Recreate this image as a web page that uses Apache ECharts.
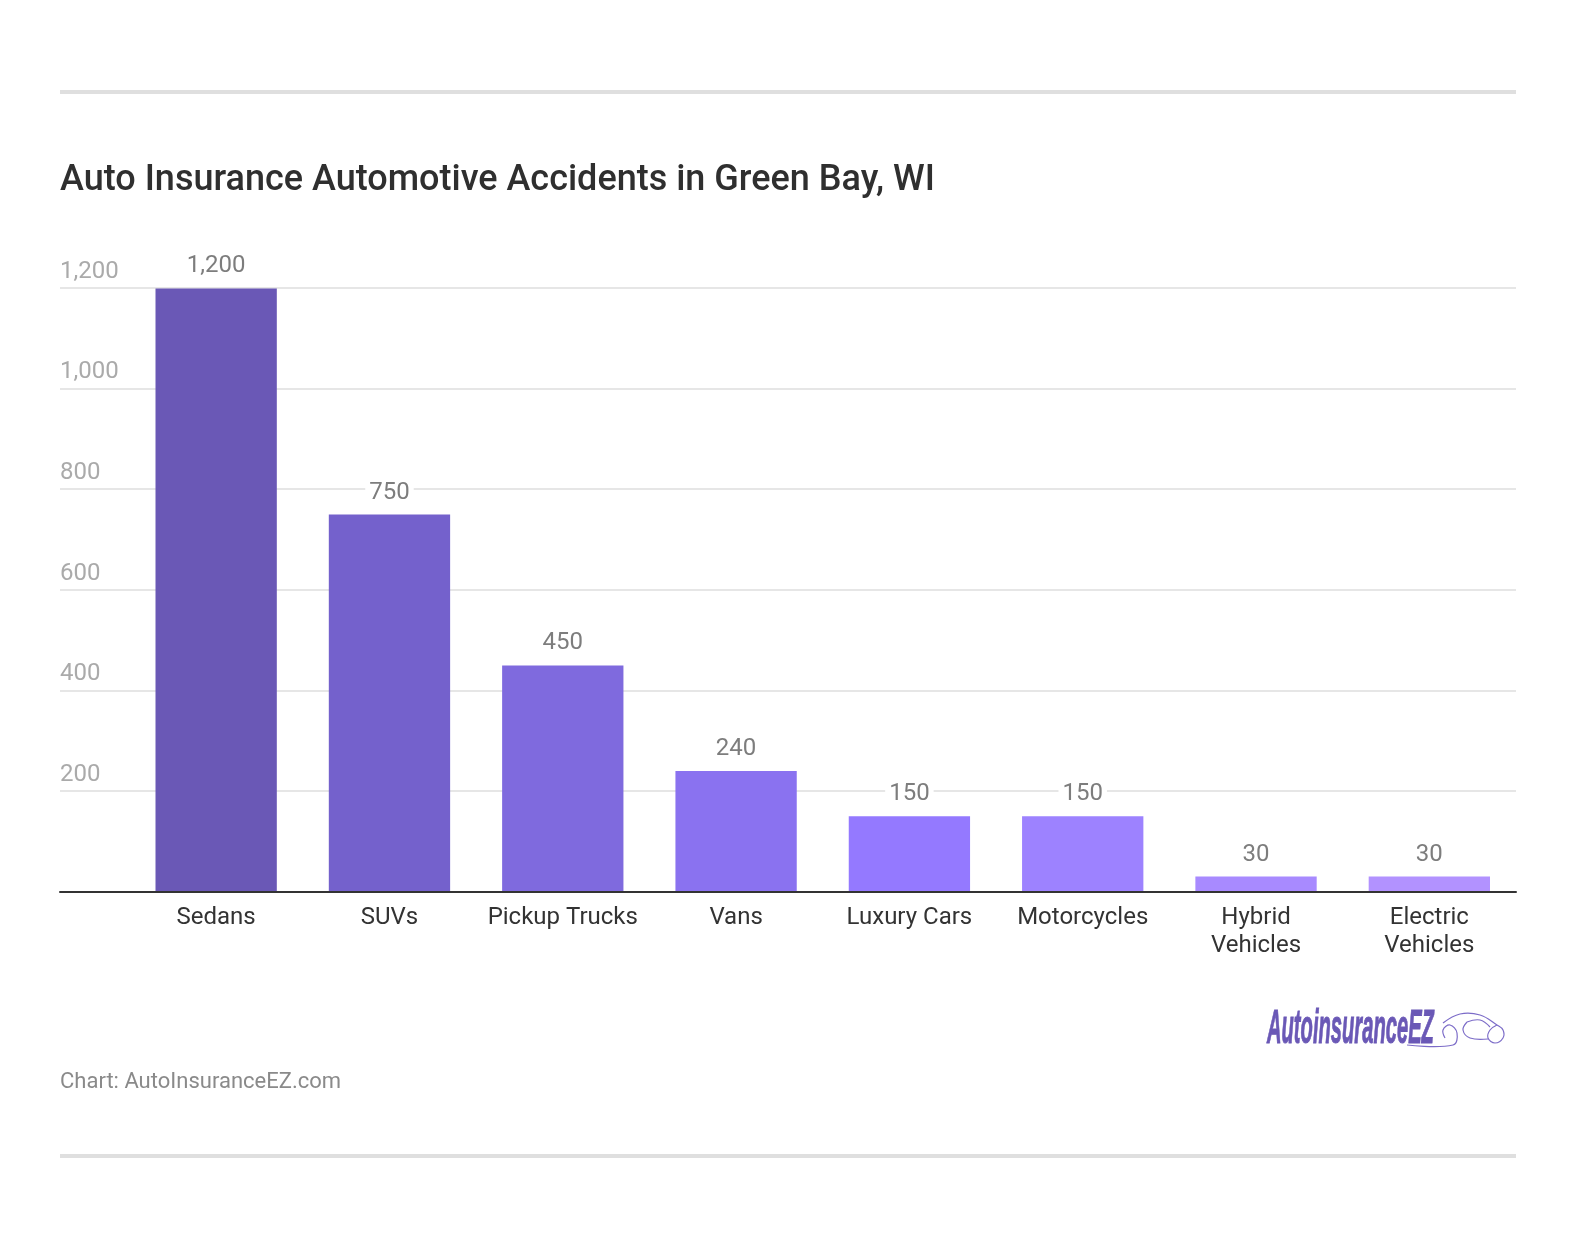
<!DOCTYPE html>
<html>
<head>
    <meta charset="UTF-8">
    <title>Auto Insurance Automotive Accidents in Green Bay, WI</title>
    <script src="https://cdn.jsdelivr.net/npm/echarts@6/dist/echarts.min.js"></script>
    <style>
        html, body { margin: 0; padding: 0; background: #fff; }
        #chart { width: 1576px; height: 1238px; }
    </style>
</head>
<body>
<div id="chart"></div>
<script>
    var categories = ['Sedans', 'SUVs', 'Pickup Trucks', 'Vans', 'Luxury Cars', 'Motorcycles', 'Hybrid\nVehicles', 'Electric\nVehicles'];
    var accidents = [1200, 750, 450, 240, 150, 150, 30, 30];
    var barColors = ['#6a58b6', '#7461cc', '#7f6ade', '#8a72f0', '#9479ff', '#9d82ff', '#a88aff', '#b292ff'];
    var titleText = 'Auto Insurance Automotive Accidents in Green Bay, WI';
    var sourceText = 'Chart: AutoInsuranceEZ.com';
    var logoText = 'AutoinsuranceEZ';

    var font = 'Roboto';
    var chart = echarts.init(document.getElementById('chart'));

    // logo car, drawn as smoothed lines
    function logoLine(points) {
        return {
            type: 'polyline',
            shape: {points: points, smooth: 0.4},
            style: {fill: 'none', stroke: '#7c6cc8', lineWidth: 1.2}
        };
    }

    chart.setOption({
        animation: false,
        backgroundColor: '#fff',
        title: {
            text: titleText,
            left: 60,
            top: 163,
            padding: 0,
            textStyle: {fontFamily: font, fontSize: 36, fontWeight: 500, color: '#2f2f2f'}
        },
        // grid 0 holds the full width gridlines, grid 1 the bars
        grid: [
            {left: 60, right: 60, top: 287.6, height: 604},
            {left: 129.5, right: 60, top: 288.4, height: 603.2}
        ],
        xAxis: [
            {
                gridIndex: 0,
                type: 'value',
                min: 0,
                max: 1,
                axisLabel: {show: false},
                axisTick: {show: false},
                splitLine: {show: false},
                axisLine: {show: true, onZero: false, lineStyle: {color: '#333', width: 2}},
                z: 5
            },
            {
                gridIndex: 1,
                type: 'category',
                data: categories,
                axisLine: {show: false},
                axisTick: {show: false},
                axisLabel: {
                    interval: 0,
                    margin: 12,
                    fontFamily: font,
                    fontSize: 24,
                    lineHeight: 28,
                    color: '#333'
                }
            }
        ],
        yAxis: [
            {
                gridIndex: 0,
                type: 'value',
                min: 0,
                max: 1200,
                interval: 200,
                axisLine: {show: false},
                axisTick: {show: false},
                splitLine: {lineStyle: {color: '#e6e6e6', width: 2}},
                axisLabel: {
                    inside: true,
                    margin: 0,
                    verticalAlign: 'bottom',
                    padding: [0, 0, 4, 0],
                    fontFamily: font,
                    fontSize: 24,
                    color: '#aaa',
                    formatter: function(v) { return v === 0 ? '' : v.toLocaleString('en-US'); }
                }
            },
            {
                gridIndex: 1,
                type: 'value',
                min: 0,
                max: 1200,
                interval: 200,
                axisLine: {show: false},
                axisTick: {show: false},
                axisLabel: {show: false},
                splitLine: {show: false}
            }
        ],
        series: [
            {
                type: 'bar',
                xAxisIndex: 1,
                yAxisIndex: 1,
                barWidth: '70%',
                data: accidents.map(function(v, i) {
                    return {value: v, itemStyle: {color: barColors[i]}};
                }),
                label: {
                    show: true,
                    position: 'top',
                    distance: 10,
                    fontFamily: font,
                    fontSize: 24,
                    color: '#7d7d7d',
                    backgroundColor: '#fff',
                    padding: [0, 4],
                    formatter: function(p) { return p.value.toLocaleString('en-US'); }
                }
            }
        ],
        graphic: [
            {type: 'rect', shape: {x: 60, y: 90, width: 1456, height: 4}, style: {fill: '#dfdfdf'}},
            {type: 'rect', shape: {x: 60, y: 1154, width: 1456, height: 4}, style: {fill: '#dfdfdf'}},
            {type: 'text', x: 60, y: 1071, style: {text: sourceText, fontFamily: font, fontSize: 22, fill: '#8a8a8a'}},
            {
                type: 'text', x: 1267, y: 1006, scaleX: 0.42,
                style: {text: logoText, fontFamily: 'Liberation Sans', fontSize: 48, fontWeight: 'bold', fontStyle: 'italic', fill: '#6a58b6', stroke: '#6a58b6', lineWidth: 1}
            },
            logoLine([[1407, 1045], [1453, 1045], [1457, 1033], [1450, 1025], [1443, 1030], [1445, 1038]]),
            logoLine([[1443, 1023], [1460, 1014], [1480, 1015], [1497, 1025], [1503, 1030], [1503, 1038], [1495, 1043], [1488, 1038], [1490, 1030], [1497, 1025]]),
            logoLine([[1467, 1022], [1463, 1030], [1470, 1038], [1488, 1039]]),
            logoLine([[1467, 1022], [1480, 1020], [1490, 1027]])
        ]
    });
</script>
</body>
</html>
